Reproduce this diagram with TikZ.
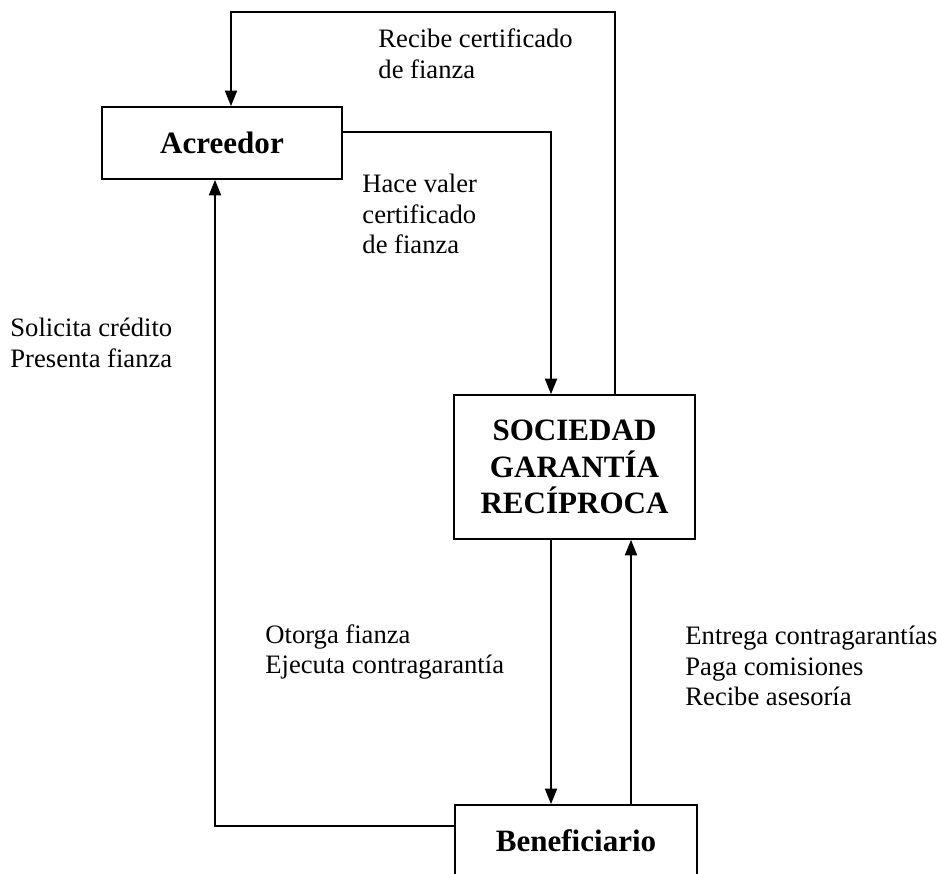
\documentclass[tikz,border=0pt]{standalone}
\usepackage{fontspec}
\setmainfont{Liberation Serif}
\usetikzlibrary{arrows.meta}
\begin{document}
\begin{tikzpicture}[x=0.451pt,y=-0.451pt,
  box/.style={draw,line width=0.75pt,inner sep=0pt,align=center,
    font=\fontsize{14}{16.5}\selectfont\bfseries},
  lbl/.style={inner sep=0pt,anchor=west,align=left,
    font=\fontsize{12}{13.8}\selectfont},
  conn/.style={line width=0.9pt},
  arr/.style={conn,-{Triangle[width=5.4pt,length=7pt]}}]
\useasboundingbox (0,0) rectangle (937,874);
% boxes
\node[box,minimum width=108.2pt,minimum height=32.5pt] (acr) at (222,143) {Acreedor};
\node[box,minimum width=108.7pt,minimum height=64.9pt] (sgr) at (574.5,467) {SOCIEDAD\\GARANTÍA\\RECÍPROCA};
\node[box,minimum width=109.1pt,minimum height=32.5pt] (ben) at (576,841) {Beneficiario};
% helper coordinates
\coordinate (t1) at (615,12);
\coordinate (t2) at (231,12);
\coordinate (r1) at (551,132);
\coordinate (l1) at (215,826);
\coordinate (u1) at (631,0);
% connectors
\draw[arr] (t1 |- sgr.north) -- (t1) -- (t2) -- (t2 |- acr.north);
\draw[arr] (acr.east |- r1) -- (r1) -- (r1 |- sgr.north);
\draw[arr] (ben.west |- l1) -- (l1) -- (l1 |- acr.south);
\draw[arr] (sgr.south -| r1) -- (r1 |- ben.north);
\draw[arr] (ben.north -| u1) -- (u1 |- sgr.south);
% labels
\node[lbl] (lrec) at (378,54) {Recibe certificado\\de fianza};
\node[lbl] (lhac) at (362,214) {Hace valer\\certificado\\de fianza};
\node[lbl] (lsol) at (10,343) {Solicita crédito\\Presenta fianza};
\node[lbl] (lotr) at (265,652) {Otorga fianza\\Ejecuta contragarantía};
\node[lbl] (lent) at (685,666) {Entrega contragarantías\\Paga comisiones\\Recibe asesoría};
\end{tikzpicture}
\end{document}
